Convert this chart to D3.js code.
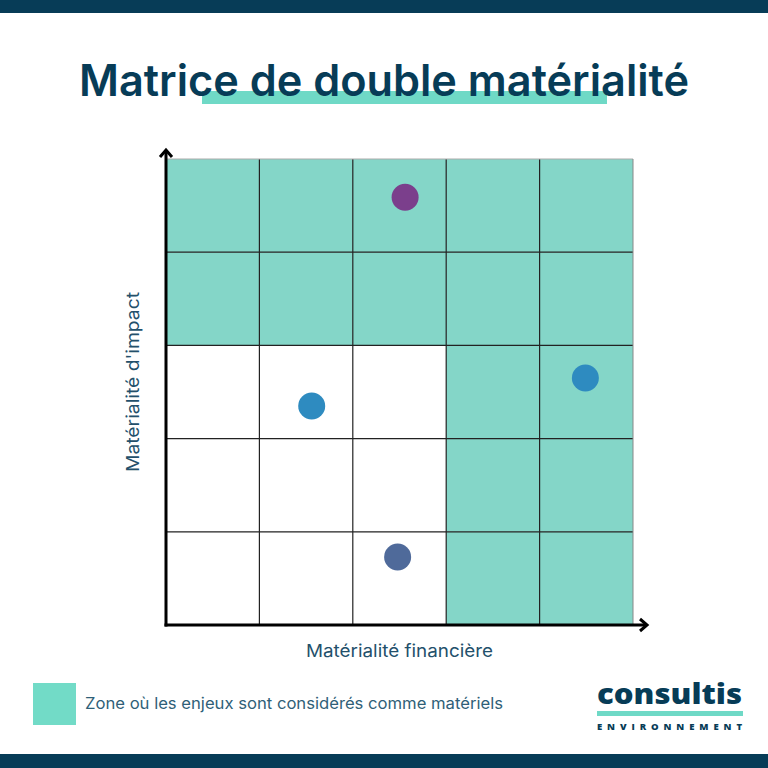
<!DOCTYPE html>
<html><head><meta charset="utf-8">
<script src="https://cdn.jsdelivr.net/npm/d3@7"></script>
<style>body{margin:0;background:#fff}svg{display:block}</style>
</head><body>
<script>
const title = "Matrice de double matérialité";
const xLabel = "Matérialité financière";
const yLabel = "Matérialité d'impact";
const legendLabel = "Zone où les enjeux sont considérés comme matériels";
const cols = [0,1,2,3,4];
const rows = [0,1,2,3,4];
// material cells: [col,row] row 0 = bottom
const materialCells = [
  [0,3],[1,3],[2,3],[3,3],[4,3],
  [0,4],[1,4],[2,4],[3,4],[4,4],
  [3,0],[4,0],[3,1],[4,1],[3,2],[4,2]
];
const pointX = [2.56, 1.56, 4.49, 2.48];
const pointY = [4.59, 2.35, 2.65, 0.73];
const pointColor = ["#7b3f8c", "#2e8bc0", "#2e8bc0", "#4f6a9a"];

const W=768,H=768;
const svg=d3.select("body").append("svg").attr("width",W).attr("height",H);
const dark="#073c57";
svg.append("rect").attr("x",0).attr("y",0).attr("width",W).attr("height",13).attr("fill",dark);
svg.append("rect").attr("x",0).attr("y",754).attr("width",W).attr("height",14).attr("fill",dark);

// title
svg.append("rect").attr("x",202).attr("y",91).attr("width",405).attr("height",13).attr("fill","#6fd9c6");
svg.append("text").attr("x",384).attr("y",96).attr("text-anchor","middle")
  .attr("font-family","Inter, 'Open Sans', sans-serif").attr("font-weight",600)
  .attr("font-size",44).attr("fill",dark).attr("textLength",610).attr("lengthAdjust","spacingAndGlyphs").text(title);

const x=d3.scaleLinear().domain([0,5]).range([166,633]);
const y=d3.scaleLinear().domain([0,5]).range([625,159]);
const g=svg.append("g");
g.selectAll("rect.cell").data(materialCells).join("rect").attr("class","cell")
  .attr("x",d=>x(d[0])).attr("y",d=>y(d[1]+1)).attr("width",x(1)-x(0)).attr("height",y(0)-y(1))
  .attr("fill","#84d6c8");
// grid lines
g.selectAll("line.v").data([1,2,3,4]).join("line").attr("x1",d=>x(d)).attr("x2",d=>x(d))
  .attr("y1",y(5)).attr("y2",y(0)).attr("stroke","#222").attr("stroke-width",1.2);
g.selectAll("line.h").data([1,2,3,4]).join("line").attr("y1",d=>y(d)).attr("y2",d=>y(d))
  .attr("x1",x(0)).attr("x2",x(5)).attr("stroke","#222").attr("stroke-width",1.2);
g.append("line").attr("x1",x(0)).attr("x2",x(5)).attr("y1",y(5)).attr("y2",y(5)).attr("stroke","#aaa").attr("stroke-width",1);
g.append("line").attr("x1",x(5)).attr("x2",x(5)).attr("y1",y(5)).attr("y2",y(0)).attr("stroke","#888").attr("stroke-width",1);

// axes with arrows
const axisW=3;
svg.append("line").attr("x1",x(0)).attr("x2",x(0)).attr("y1",y(0)+1.5).attr("y2",150).attr("stroke","#000").attr("stroke-width",axisW);
svg.append("path").attr("d",`M${x(0)-6},${157} L${x(0)},${150} L${x(0)+6},${157}`).attr("fill","none").attr("stroke","#000").attr("stroke-width",3);
svg.append("line").attr("x1",x(0)-1.5).attr("x2",647).attr("y1",y(0)).attr("y2",y(0)).attr("stroke","#000").attr("stroke-width",axisW);
svg.append("path").attr("d",`M${640},${y(0)-6} L${647},${y(0)} L${640},${y(0)+6}`).attr("fill","none").attr("stroke","#000").attr("stroke-width",3);

// points
svg.selectAll("circle.pt").data(pointX).join("circle").attr("class","pt")
  .attr("cx",(d)=>x(d)).attr("cy",(d,i)=>y(pointY[i])).attr("r",13.5).attr("fill",(d,i)=>pointColor[i]);

// axis labels
const lab="#23506b";
svg.append("text").attr("x",306).attr("y",657)
  .attr("font-family","Inter, 'Open Sans', sans-serif").attr("font-size",17.5).attr("fill",lab)
  .attr("textLength",187).attr("lengthAdjust","spacingAndGlyphs").text(xLabel);
svg.append("text").attr("transform","translate(139,472) rotate(-90)")
  .attr("font-family","Inter, 'Open Sans', sans-serif").attr("font-size",17.5).attr("fill",lab)
  .attr("textLength",180).attr("lengthAdjust","spacingAndGlyphs").text(yLabel);

// legend
svg.append("rect").attr("x",33).attr("y",683).attr("width",43).attr("height",42).attr("fill","#72dbc7");
svg.append("text").attr("x",85).attr("y",709).attr("font-family","Inter, 'Open Sans', sans-serif")
  .attr("font-size",16).attr("fill","#2f5f78").attr("textLength",418).attr("lengthAdjust","spacingAndGlyphs").text(legendLabel);

// logo
svg.append("text").attr("x",597).attr("y",704).attr("font-family","'Open Sans', sans-serif").attr("font-weight",800)
  .attr("font-size",29).attr("fill",dark).attr("textLength",145).attr("lengthAdjust","spacingAndGlyphs").text("consultis");
svg.append("rect").attr("x",597).attr("y",711).attr("width",146).attr("height",5).attr("fill","#6fd9c6");
svg.append("text").attr("x",597).attr("y",730).attr("font-family","'Open Sans', sans-serif").attr("font-weight",800)
  .attr("font-size",9.5).attr("fill",dark).attr("textLength",145).attr("lengthAdjust","spacing").text("ENVIRONNEMENT");
</script>
</body></html>
